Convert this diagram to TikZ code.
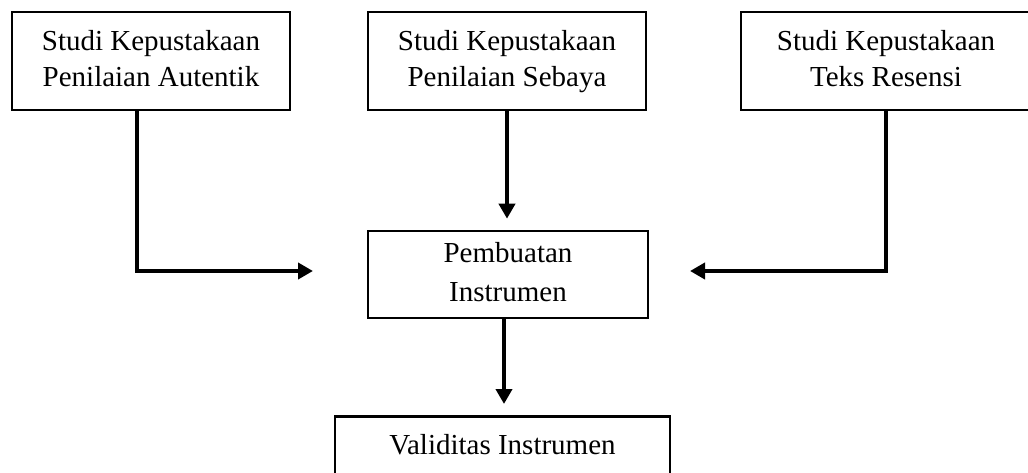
\documentclass[tikz,border=0pt]{standalone}
\usepackage{fontspec}
\setmainfont{Liberation Serif}
\usetikzlibrary{arrows.meta,calc}
\begin{document}
\begin{tikzpicture}[x=0.02cm,y=-0.02cm,
  box/.style={draw,line width=1.5pt,inner sep=0pt,align=center,
    font=\fontsize{16.5}{20.5}\selectfont},
  conn/.style={line width=2.5pt,-{Triangle[length=0.3cm,width=0.32cm]}}]
\useasboundingbox (0,0) rectangle (1028,473);
\node[box,minimum width=5.56cm,minimum height=1.96cm] (a) at (151,61)
  {Studi Kepustakaan\strut\\Penilaian Autentik\strut};
\node[box,minimum width=5.56cm,minimum height=1.96cm] (b) at (507,61)
  {Studi Kepustakaan\strut\\Penilaian Sebaya\strut};
\node[box,minimum width=5.8cm,minimum height=1.96cm] (c) at (886,61)
  {Studi Kepustakaan\strut\\Teks Resensi\strut};
\node[box,minimum width=5.6cm,minimum height=1.74cm,
  font=\fontsize{16.5}{22}\selectfont] (p) at (508,274.5)
  {Pembuatan\strut\\Instrumen\strut};
\node[box,minimum width=6.7cm,text height=0.76cm,text depth=1.2cm,anchor=north] (v)
  at (502.5,415) {Validitas Instrumen};
\coordinate (lt) at (313,271);
\coordinate (rt) at (690,271);
\coordinate (ls) at (137,110);
\coordinate (ps) at (504,318);
\coordinate (vn) at (504,415);
\draw[conn] (ls) |- (lt);
\draw[conn] (c.south) |- (rt);
\draw[conn,shorten >=0.22cm] (b.south) -- (b.south |- p.north);
\draw[conn,shorten >=0.22cm] (ps) -- (vn);
\end{tikzpicture}
\end{document}
